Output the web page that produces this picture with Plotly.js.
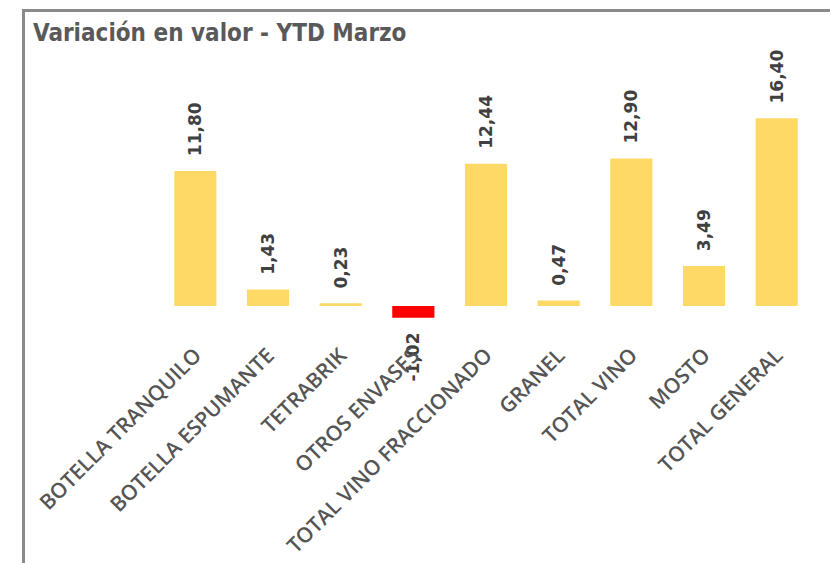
<!DOCTYPE html>
<html>
<head>
<meta charset="utf-8">
<script src="https://cdn.plot.ly/plotly-3.0.1.min.js"></script>
<style>
  html, body { margin: 0; padding: 0; background: #fff; }
  #wrap { position: relative; width: 830px; height: 563px; overflow: hidden; }
  #chart { position: absolute; left: 0; top: 0; width: 830px; height: 563px; }
  .bl { position: absolute; left: 22px; top: 9px; width: 3px; height: 560px; background: #8a8a8a; pointer-events: none; }
  .bt { position: absolute; left: 22px; top: 9px; width: 820px; height: 3px; background: #8a8a8a; pointer-events: none; }
</style>
</head>
<body>
<div id="wrap">
  <div id="chart"></div>
  <div class="bl"></div>
  <div class="bt"></div>
</div>
<script>
const categories = ["BOTELLA TRANQUILO", "BOTELLA ESPUMANTE", "TETRABRIK", "OTROS ENVASES",
  "TOTAL VINO FRACCIONADO", "GRANEL", "TOTAL VINO", "MOSTO", "TOTAL GENERAL"];
const values = [11.80, 1.43, 0.23, -1.02, 12.44, 0.47, 12.90, 3.49, 16.40];
const titleText = "Variación en valor - YTD Marzo";

const pad = "\u00a0\u00a0";
const fmt = v => v.toFixed(2).replace(".", ",");
const labels = values.map(v => v >= 0 ? pad + fmt(v) : fmt(v) + pad);
const colors = values.map(v => v >= 0 ? "#FFD966" : "#FF0000");

const trace = {
  type: "bar",
  x: categories,
  y: values,
  marker: { color: colors },
  text: labels,
  textposition: "outside",
  textangle: -90,
  constraintext: "none",
  cliponaxis: false,
  textfont: { family: "DejaVu Sans", size: 17, color: "#404040", weight: "bold" },
  hoverinfo: "none"
};

const layout = {
  width: 830, height: 563,
  margin: { l: 159, r: 17, t: 60, b: 225 },
  paper_bgcolor: "#ffffff",
  plot_bgcolor: "#ffffff",
  bargap: 0.42,
  showlegend: false,
  title: {
    text: titleText,
    x: 33 / 830, xref: "container", xanchor: "left",
    y: 1 - 33 / 563, yref: "container", yanchor: "middle",
    font: { family: "DejaVu Sans Condensed, sans-serif", size: 24, color: "#595959", weight: "bold" }
  },
  xaxis: {
    tickangle: -45,
    tickfont: { family: "Open Sans", size: 21, color: "#555555", weight: 600 },
    showgrid: false, zeroline: false, showline: false, ticks: ""
  },
  yaxis: {
    range: [-2.8, 21.5],
    visible: false,
    showgrid: false, zeroline: false
  }
};

Plotly.newPlot("chart", [trace], layout, { displayModeBar: false, staticPlot: true });
</script>
</body>
</html>
